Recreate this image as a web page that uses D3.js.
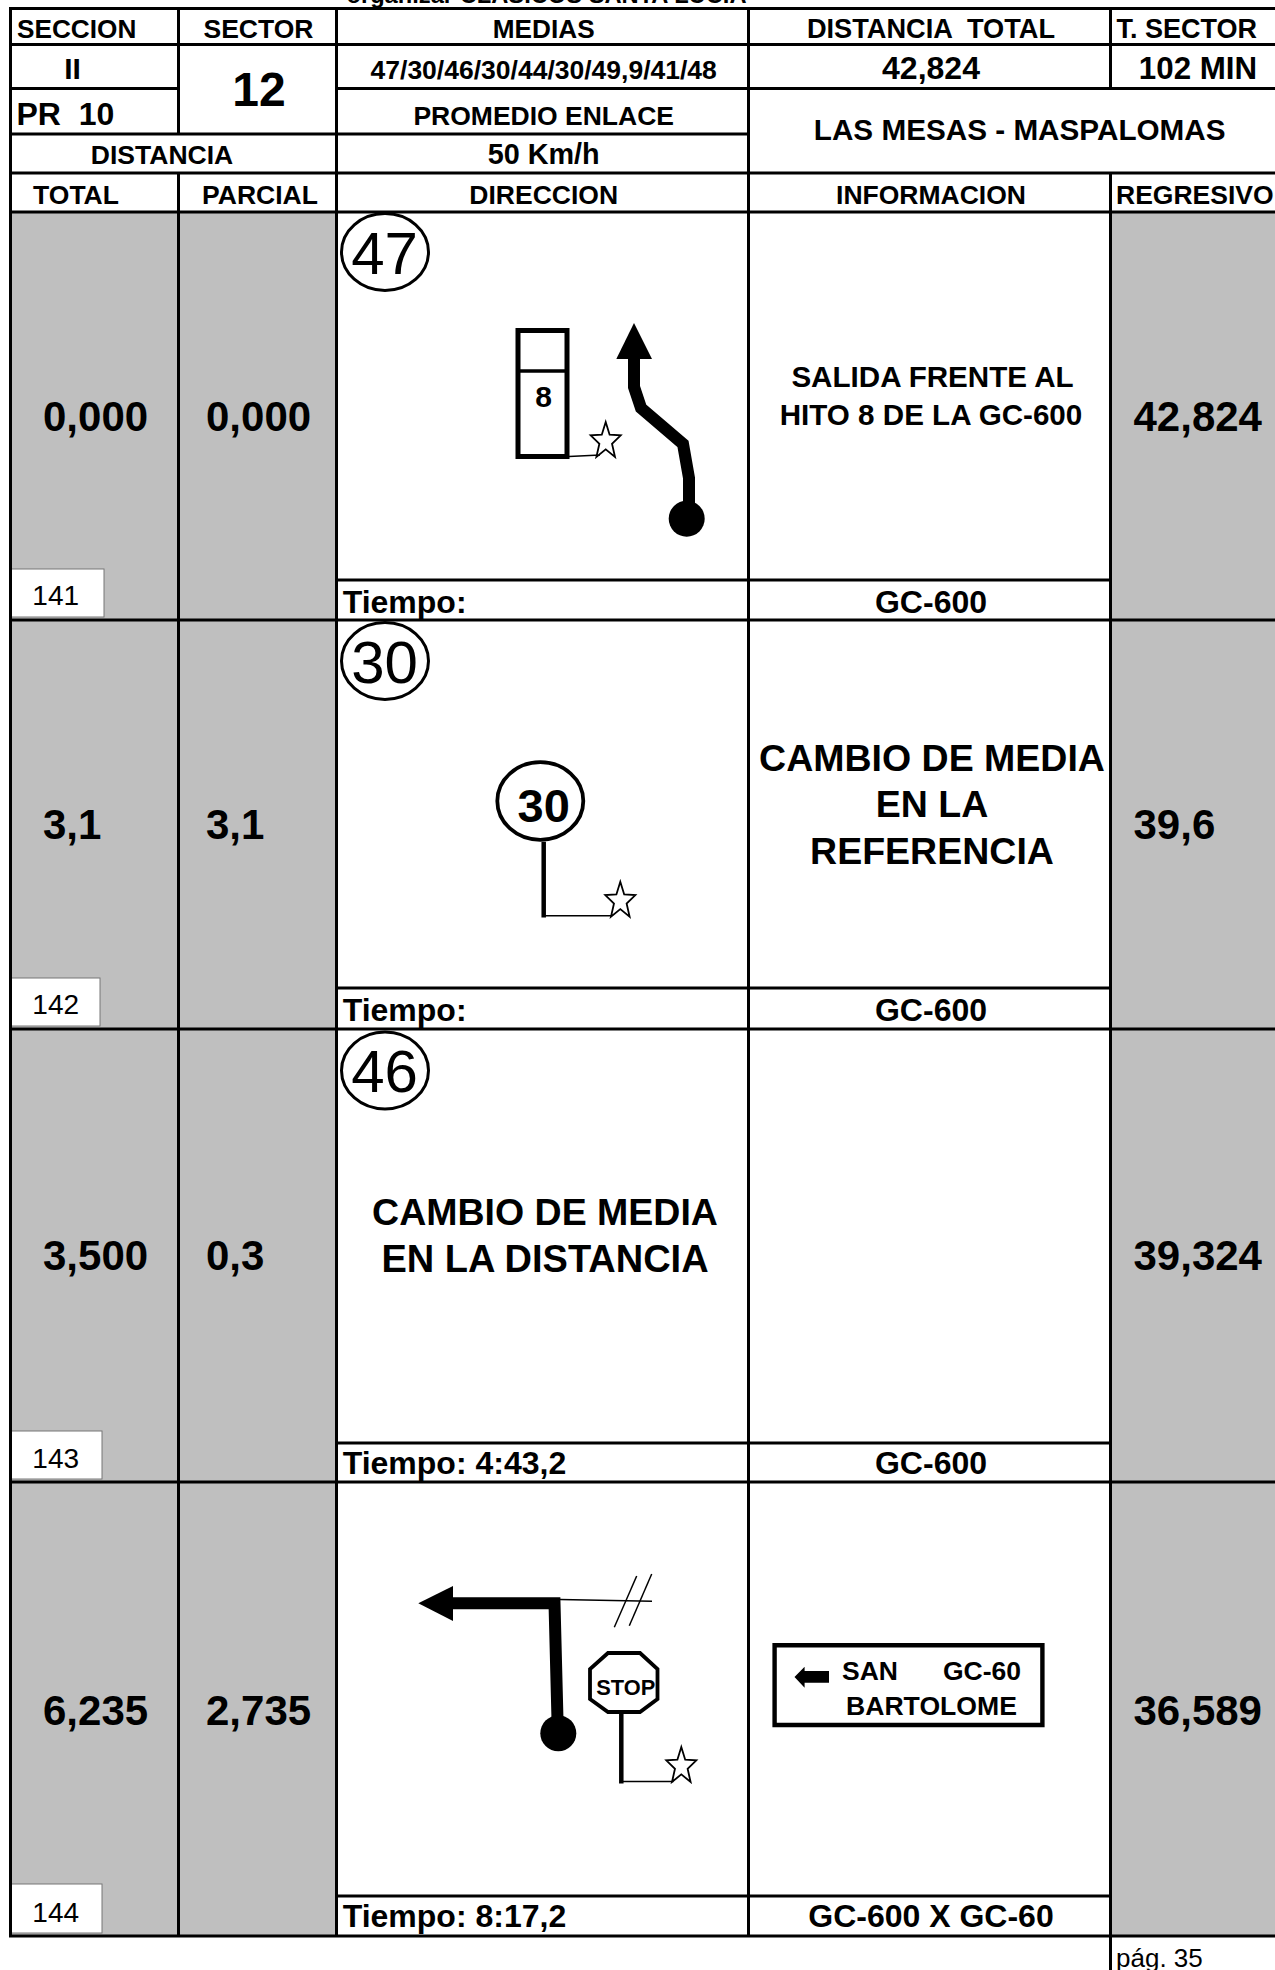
<!DOCTYPE html>
<html><head><meta charset="utf-8">
<script src="https://cdn.jsdelivr.net/npm/d3@7/dist/d3.min.js"></script>
<style>html,body{margin:0;padding:0;background:#fff}svg{display:block}text{font-family:"Liberation Sans",Arial,sans-serif;fill:#000;white-space:pre}</style>
</head><body><script>
// ---- content ----
const rowNumbers = ["141","142","143","144"];
const totals     = ["0,000","3,1","3,500","6,235"];
const partials   = ["0,000","3,1","0,3","2,735"];
const regressive = ["42,824","39,6","39,324","36,589"];
const tiempos    = ["Tiempo:","Tiempo:","Tiempo: 4:43,2","Tiempo: 8:17,2"];
const roads      = ["GC-600","GC-600","GC-600","GC-600 X GC-60"];
const averages   = ["47","30","46"];
const headerTop  = "organizar CLASICOS SANTA LUCIA";

// ---- layout ----
const W=1275,H=1970;
const X=[10.5,178.5,336.5,748.5,1110.5,W];
const HY=[8.5,44.5,88.5,134,173,212];
const rowTop=[212,620,1029,1482];
const rowTime=[580,988,1443,1896];
const rowBot=[620,1029,1482,1936];
const numBase=[431,839,1270,1725];
const boxes=[[11,104,569,617],[11,100,978,1026],[11,102,1431,1479],[11,102,1884,1933]];
const idxBase=[605,1014,1468,1922];
const timeBase=[612.5,1021,1474,1927];
const avgCy=[252,661,1070.5];

const svg=d3.select("body").append("svg").attr("width",W).attr("height",H).attr("viewBox",`0 0 ${W} ${H}`);
const line=d3.line();

// grey cells
const greyCols=[[X[0],X[1]],[X[1],X[2]],[X[4],X[5]]];
svg.append("g").selectAll("rect").data(greyCols).join("rect")
  .attr("x",d=>d[0]).attr("y",HY[5]).attr("width",d=>d[1]-d[0]).attr("height",rowBot[3]-HY[5]).attr("fill","#bfbfbf");

// index boxes
svg.append("g").selectAll("rect").data(boxes).join("rect")
  .attr("x",d=>d[0]).attr("y",d=>d[2]).attr("width",d=>d[1]-d[0]).attr("height",d=>d[3]-d[2])
  .attr("fill","#fff").attr("stroke","#777").attr("stroke-width",1);

// grid rules [x1,y1,x2,y2]
const rules=[
  ...[HY[0],HY[1],HY[4],HY[5]].map(y=>[X[0]-1.5,y,W,y]),
  [X[0]-1.5,HY[2],X[1],HY[2]],[X[2],HY[2],W,HY[2]],
  [X[0],HY[3],X[3],HY[3]],
  ...rowBot.map(y=>[X[0]-1.5,y,W,y]),
  ...rowTime.map(y=>[X[2],y,X[4],y]),
  [X[0],HY[0],X[0],rowBot[3]],
  [X[1],HY[0],X[1],HY[3]],[X[1],HY[4],X[1],rowBot[3]],
  [X[2],HY[0],X[2],rowBot[3]],
  [X[3],HY[0],X[3],rowBot[3]],
  [X[4],HY[0],X[4],HY[2]],[X[4],HY[4],X[4],H]
];
svg.append("g").selectAll("line").data(rules).join("line")
  .attr("x1",d=>d[0]).attr("y1",d=>d[1]).attr("x2",d=>d[2]).attr("y2",d=>d[3])
  .attr("stroke","#000").attr("stroke-width",3);

// text table
const C={sec:258.5,med:543.7,inf:931};
const T=[];
const t=(s,x,y,size,anchor="middle",weight=700)=>T.push({s,x,y,size,anchor,weight});
t(headerTop,546.5,2.5,23.7);
t("SECCION",17,38,26.2,"start"); t("SECTOR",C.sec,38,26.5); t("MEDIAS",C.med,38,26.2);
t("DISTANCIA  TOTAL",C.inf,38,27.2); t("T. SECTOR",1116.5,38,27,"start");
t("II",72.6,78.8,30); t("12",C.sec+0.5,106,48); t("47/30/46/30/44/30/49,9/41/48",C.med,78.8,26.5);
t("42,824",C.inf,78.8,32); t("102 MIN",1198,78.8,31.3);
t("PR  10",16.5,125,32,"start"); t("PROMEDIO ENLACE",C.med,124.5,26.5);
t("LAS MESAS - MASPALOMAS",1019.7,140.3,29.7);
t("DISTANCIA",162,164,26.5); t("50 Km/h",C.med,164,28.8);
t("TOTAL",76,204,26.5); t("PARCIAL",260,204,26.5); t("DIRECCION",C.med,204,26.5);
t("INFORMACION",C.inf,204,26.5); t("REGRESIVO",1116,204,26.5,"start");

rowNumbers.forEach((n,i)=>{
  t(n,55.7,idxBase[i],28,"middle",400);
  t(totals[i],43,numBase[i],42,"start");
  t(partials[i],206,numBase[i],42,"start");
  t(regressive[i],1133.5,numBase[i],42,"start");
  t(tiempos[i],342.7,timeBase[i],32,"start");
  t(roads[i],C.inf,timeBase[i],32);
});
// notes
t("SALIDA FRENTE AL",932.5,387,29.6); t("HITO 8 DE LA GC-600",C.inf,424.5,29.6);
t("CAMBIO DE MEDIA",C.inf+1,771,37.5); t("EN LA",C.inf+1,817,37.5); t("REFERENCIA",C.inf+1,863.5,37.5);
t("CAMBIO DE MEDIA",545,1225,37.5); t("EN LA DISTANCIA",545,1272,38);
t("8",543.7,406.7,30); t("30",543.7,821.5,47); t("STOP",625.7,1695,21.8);
t("SAN",842,1680,26.5,"start"); t("GC-60",943,1680,26.5,"start"); t("BARTOLOME",846,1715,26.6,"start");
t("pág. 35",1116,1966.7,26,"start",400);
averages.forEach((a,i)=>t(a,384.5,avgCy[i]+21.5,60,"middle",400));

// sketch shapes
const thick=[
  {pts:[[634,356],[634,387],[641,408],[683,444],[689,478],[689,505]],w:12},
  {pts:[[450,1603.3],[554.5,1603.3],[557.5,1720]],w:12}
];
svg.append("g").selectAll("path").data(thick).join("path")
  .attr("d",d=>line(d.pts)).attr("fill","none").attr("stroke","#000").attr("stroke-width",d=>d.w).attr("stroke-linejoin","miter");

const solid=[
  [[634,323],[652,359],[616.3,359]],
  [[418.3,1603.3],[453,1586],[453,1621]],
  [[794.5,1677],[804.6,1666.7],[804.6,1671],[829,1671],[829,1682.7],[804.6,1682.7],[804.6,1687.7]]
];
svg.append("g").selectAll("path").data(solid).join("path").attr("d",d=>line(d)+"Z").attr("fill","#000");

svg.append("g").selectAll("circle").data([[686.7,518.7],[558.3,1733.3]]).join("circle")
  .attr("cx",d=>d[0]).attr("cy",d=>d[1]).attr("r",18).attr("fill","#000");

const strokes=[
  {p:[[518,330.5],[567,330.5],[567,456.5],[518,456.5]],w:5,close:1},
  {p:[[516,371],[569,371]],w:3.5},
  {p:[[569,456.5],[600,455]],w:1.5},
  {p:[[543.7,841.7],[543.7,917.5]],w:4.5},
  {p:[[545,915.7],[612,915.7]],w:1.5},
  {p:[[560,1599.5],[652,1601.3]],w:1.5},
  {p:[[614.3,1627.3],[636.7,1576]],w:1.5},
  {p:[[629.3,1625.7],[651.7,1574]],w:1.5},
  {p:[[608,1653],[640,1653],[657.5,1669],[657.5,1699],[640,1712],[608,1712],[590,1699],[590,1669]],w:3.8,close:1},
  {p:[[621.3,1712],[621.3,1783.5]],w:4.5},
  {p:[[622,1781.5],[673.5,1781.5]],w:1.5},
  {p:[[774.6,1645.2],[1042.4,1645.2],[1042.4,1725],[774.6,1725]],w:4.4,close:1}
];
svg.append("g").selectAll("path").data(strokes).join("path")
  .attr("d",d=>line(d.p)+(d.close?"Z":"")).attr("fill","none").attr("stroke","#000").attr("stroke-width",d=>d.w);

// ellipses
const ell=[...avgCy.map(cy=>({cx:385,cy,rx:43.5,ry:38.5,w:3})),{cx:540.3,cy:801,rx:43,ry:38.8,w:3.8}];
svg.append("g").selectAll("ellipse").data(ell).join("ellipse")
  .attr("cx",d=>d.cx).attr("cy",d=>d.cy).attr("rx",d=>d.rx).attr("ry",d=>d.ry)
  .attr("fill","none").attr("stroke","#000").attr("stroke-width",d=>d.w);

// stars
const stars=[{cx:605.7,top:422},{cx:620.3,top:881.7},{cx:681.3,top:1747}];
const starPath=s=>{const rx=15.8,ry=19.3,cy=s.top+ry;
  const pts=d3.range(10).map(k=>{const a=-Math.PI/2+k*Math.PI/5,f=k%2?0.42:1;return [s.cx+rx*f*Math.cos(a),cy+ry*f*Math.sin(a)];});
  return line(pts)+"Z";};
svg.append("g").selectAll("path").data(stars).join("path").attr("d",starPath)
  .attr("fill","#fff").attr("stroke","#000").attr("stroke-width",1.8);

// all text on top
svg.append("g").selectAll("text").data(T).join("text")
  .attr("x",d=>d.x).attr("y",d=>d.y).attr("font-size",d=>d.size).attr("font-weight",d=>d.weight)
  .attr("text-anchor",d=>d.anchor).text(d=>d.s);
</script></body></html>
